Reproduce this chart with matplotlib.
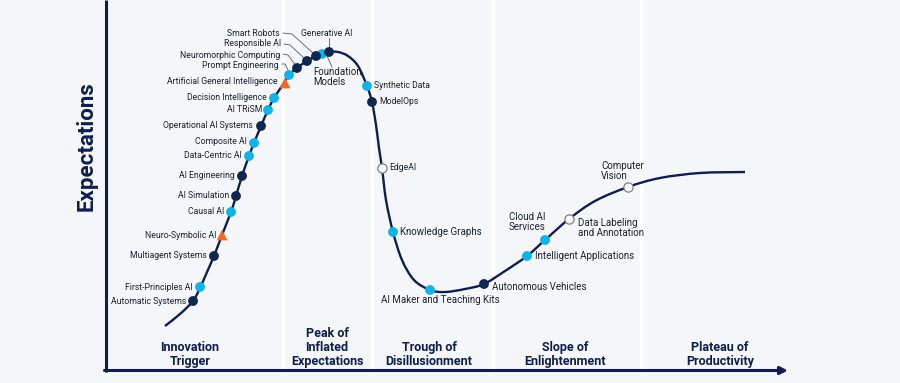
#!/usr/bin/env python3
"""Hype cycle de IA: curva, tecnologias y fases, guardado en out.png."""

import matplotlib
matplotlib.use("Agg")
import matplotlib.pyplot as plt
from matplotlib.path import Path
from matplotlib.patches import PathPatch

# --- datos (coordenadas en pixeles de la imagen, y hacia abajo) ---
curve_x = [165, 180, 193, 200, 207, 214, 222, 231, 236, 242, 249, 254, 261,
           268, 274, 282, 289, 297, 307, 316, 322, 329, 338, 348, 358, 367,
           372, 376, 379, 382, 386, 393, 402, 414, 430, 445, 465, 484, 505,
           527, 545, 569, 595, 628, 660, 700, 745]
curve_y = [326, 314, 301, 288, 272, 256, 235, 212, 196, 176, 156, 143, 126,
           110, 98, 86, 75, 68, 61, 56, 54, 52, 52, 56, 66, 86,
           102, 125, 148, 168, 200, 232, 260, 280, 290, 292, 289, 284, 271,
           256, 240, 219, 201, 187, 178, 173, 172]

techs = ["Automatic Systems", "First-Principles AI", "Multiagent Systems",
         "Neuro-Symbolic AI", "Causal AI", "AI Simulation", "AI Engineering",
         "Data-Centric AI", "Composite AI", "Operational AI Systems",
         "AI TRiSM", "Decision Intelligence", "Artificial General Intelligence",
         "Prompt Engineering", "Neuromorphic Computing", "Responsible AI",
         "Smart Robots", "Foundation\nModels", "Generative AI",
         "Synthetic Data", "ModelOps", "EdgeAI", "Knowledge Graphs",
         "AI Maker and Teaching Kits", "Autonomous Vehicles",
         "Intelligent Applications", "Cloud AI\nServices",
         "Data Labeling\nand Annotation", "Computer\nVision"]
tech_x = [193, 200, 214, 222, 231, 236, 242, 249, 254, 261, 268, 274, 285,
          289, 297, 307, 316, 322, 329, 367, 372, 382, 393, 430, 484, 527,
          545, 569, 628]
tech_y = [301, 287, 256, 235, 212, 196, 176, 156, 143, 126, 110, 98, 83,
          75, 68, 61, 56, 54, 52, 86, 102, 168, 232, 290, 284, 256,
          240, 219, 187]
# tiempo hasta plateau: "lt2" (<2 años), "2to5", "5to10", "gt10"
tech_kind = ["5to10", "2to5", "5to10", "gt10", "2to5", "5to10", "5to10",
             "2to5", "2to5", "5to10", "2to5", "2to5", "gt10",
             "2to5", "5to10", "5to10", "5to10", "2to5", "5to10",
             "2to5", "5to10", "lt2", "2to5", "2to5", "5to10", "2to5",
             "2to5", "lt2", "lt2"]

phases = ["Innovation\nTrigger", "Peak of\nInflated\nExpectations",
          "Trough of\nDisillusionment", "Slope of\nEnlightenment",
          "Plateau of\nProductivity"]

# --- estilo ---
BG = "#f4f6f9"
NAVY = "#0e1f4d"
DARK = "#11274f"
LIGHT = "#12b2e8"
ORANGE = "#f26a21"
TXT = "#1c2130"

phase_cx = [190, 327, 429, 565, 720]
dividers = [283, 372, 493, 641]

# posicion de la etiqueta (x, y, ha) y lineas guia opcionales
label_pos = {
    "Automatic Systems": (186, 301, "right"),
    "First-Principles AI": (193, 287, "right"),
    "Multiagent Systems": (207, 256, "right"),
    "Neuro-Symbolic AI": (216, 235, "right"),
    "Causal AI": (224, 212, "right"),
    "AI Simulation": (229, 195, "right"),
    "AI Engineering": (235, 175, "right"),
    "Data-Centric AI": (242, 156, "right"),
    "Composite AI": (247, 142, "right"),
    "Operational AI Systems": (253, 126, "right"),
    "AI TRiSM": (262, 110, "right"),
    "Decision Intelligence": (267, 97, "right"),
    "Artificial General Intelligence": (278, 82, "right"),
    "Prompt Engineering": (279, 65, "right"),
    "Neuromorphic Computing": (280, 55, "right"),
    "Responsible AI": (281, 44, "right"),
    "Smart Robots": (280, 33, "right"),
    "Foundation\nModels": (313, 77, "left"),
    "Generative AI": (301, 33, "left"),
    "Synthetic Data": (374, 85, "left"),
    "ModelOps": (379, 102, "left"),
    "EdgeAI": (389, 168, "left"),
    "Knowledge Graphs": (400, 232, "left"),
    "AI Maker and Teaching Kits": (440, 300, "center"),
    "Autonomous Vehicles": (492, 287, "left"),
    "Intelligent Applications": (535, 256, "left"),
    "Cloud AI\nServices": (509, 222, "left"),
    "Data Labeling\nand Annotation": (578, 228, "left"),
    "Computer\nVision": (601, 171, "left"),
}
# etiquetas algo mas grandes en la parte derecha
big_labels = {"Knowledge Graphs", "AI Maker and Teaching Kits",
              "Autonomous Vehicles", "Intelligent Applications",
              "Cloud AI\nServices", "Data Labeling\nand Annotation",
              "Computer\nVision", "Foundation\nModels"}
leaders = {
    "Prompt Engineering": [(282, 64), (285, 64), (289, 72)],
    "Neuromorphic Computing": [(283, 54), (288, 55), (296, 66)],
    "Responsible AI": [(284, 44), (290, 45), (305, 59)],
    "Smart Robots": [(283, 33), (292, 34), (314, 54)],
    "Generative AI": [(329, 38), (329, 49)],
    "Foundation\nModels": [(327, 56), (332, 67)],
}


def smooth_path(xs, ys):
    """Curva suave (Catmull-Rom -> Bezier cubica) que pasa por los puntos."""
    pts = list(zip(xs, ys))
    verts = [pts[0]]
    codes = [Path.MOVETO]
    n = len(pts)
    for i in range(n - 1):
        p0 = pts[max(i - 1, 0)]
        p1 = pts[i]
        p2 = pts[i + 1]
        p3 = pts[min(i + 2, n - 1)]
        c1 = (p1[0] + (p2[0] - p0[0]) / 6, p1[1] + (p2[1] - p0[1]) / 6)
        c2 = (p2[0] - (p3[0] - p1[0]) / 6, p2[1] - (p3[1] - p1[1]) / 6)
        verts += [c1, c2, p2]
        codes += [Path.CURVE4] * 3
    return Path(verts, codes)


def main():
    fig = plt.figure(figsize=(9, 3.83), dpi=100, facecolor=BG)
    ax = fig.add_axes([0, 0, 1, 1])
    ax.set_facecolor(BG)
    ax.set_xlim(0, 900)
    ax.set_ylim(383, 0)
    ax.axis("off")

    # separadores de fases
    for x in dividers:
        ax.plot([x, x], [0, 368], color="white", lw=2.5, zorder=1)

    # ejes
    ax.plot([105.5, 105.5], [0, 371.5], color=NAVY, lw=2.2, zorder=3,
            solid_capstyle="butt")
    ax.annotate("", xy=(788, 370.5), xytext=(104.5, 370.5),
                arrowprops=dict(arrowstyle="-|>", color=NAVY, lw=2.2,
                                mutation_scale=11, shrinkA=0, shrinkB=0),
                zorder=3)

    ax.text(87, 146, "Expectations", rotation=90, ha="center", va="center",
            color=NAVY, fontsize=16, fontweight="bold", family="Roboto")

    # curva
    ax.add_patch(PathPatch(smooth_path(curve_x, curve_y), fill=False,
                           edgecolor=NAVY, lw=1.7, zorder=2))

    # marcadores
    style = {
        "lt2": dict(marker="o", s=44, facecolor="white", edgecolor="#7a7f8a",
                    linewidths=0.9),
        "2to5": dict(marker="o", s=50, facecolor=LIGHT, edgecolor="none"),
        "5to10": dict(marker="o", s=50, facecolor=DARK, edgecolor="none"),
        "gt10": dict(marker="^", s=60, facecolor=ORANGE, edgecolor="none"),
    }
    for kind, st in style.items():
        xs = [x for x, k in zip(tech_x, tech_kind) if k == kind]
        ys = [y for y, k in zip(tech_y, tech_kind) if k == kind]
        ax.scatter(xs, ys, zorder=5, **st)

    # etiquetas y lineas guia
    for name in techs:
        lx, ly, ha = label_pos[name]
        size = 7.0 if name in big_labels else 6.2
        ax.text(lx, ly, name, ha=ha, va="center", fontsize=size,
                family="Roboto", color=TXT, linespacing=1.05, zorder=6)
        if name in leaders:
            pts = leaders[name]
            ax.plot([p[0] for p in pts], [p[1] for p in pts],
                    color="#555a66", lw=0.6, zorder=4)

    # fases
    for cx, name in zip(phase_cx, phases):
        ax.text(cx, 368, name, ha="center", va="bottom", fontsize=9,
                fontweight="bold", family="Roboto", color=NAVY,
                linespacing=1.1)

    fig.savefig("out.png", dpi=100, facecolor=BG)


if __name__ == "__main__":
    main()
